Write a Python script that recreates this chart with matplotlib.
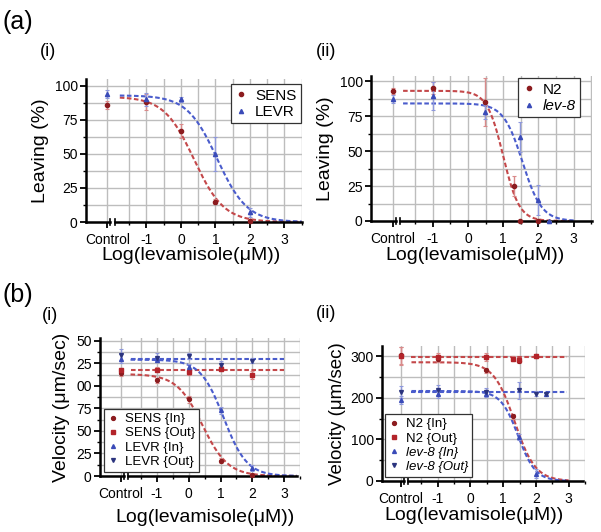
import numpy as np
import matplotlib
matplotlib.use("Agg")
import matplotlib.pyplot as plt
from matplotlib.lines import Line2D

plt.rcParams['font.family'] = ['Liberation Sans', 'DejaVu Sans']

W, H = 601, 532
fig = plt.figure(figsize=(W / 100, H / 100), dpi=100)

# ---------------- data ----------------
CONTROL = "Control"
x_ticks = [-1, 0, 1, 2, 3]

# (a)(i) Leaving (%)
a1_x = [CONTROL, -1, 0, 1, 2]
a1_sens = [86, 88, 67, 15, 1]
a1_sens_err = [3, 6, 5, 2, 1]
a1_levr = [94, 90, 90, 50, 7]
a1_levr_err = [3, 5, 2, 12.5, 3]
a1_fit_sens = [92, 0.38, 1.0]   # top, logEC50, hill
a1_fit_levr = [93, 1.05, 1.0]

# (a)(ii)
a2_n2_x = [CONTROL, -1, 0.48, 1.3, 1.48, 2]
a2_n2 = [93, 95, 85, 25, 0, 0]
a2_n2_err = [2, 4, 17, 7, 0, 0]
a2_lev8_x = [CONTROL, -1, 0.48, 1.48, 2, 2.3]
a2_lev8 = [87, 89, 78, 60, 15, 0]
a2_lev8_err = [3, 10, 5, 11, 10.5, 0]
a2_fit_n2 = [93, 1.0, 1.9]
a2_fit_lev8 = [84, 1.55, 1.6]

# (b)(i) Velocity
b1_x = [CONTROL, -1, 0, 1, 2]
b1_sens_in = [114, 106, 85, 17, 1]
b1_sens_in_err = [3, 3, 4, 3, 1]
b1_sens_out = [117, 118, 115, 119, 112]
b1_sens_out_err = [3, 3, 3, 3, 4]
b1_levr_in = [130, 129, 121, 73, 9]
b1_levr_in_err = [5, 3, 3, 4, 3]
b1_levr_out = [134, 131, 133, 123, 128]
b1_levr_out_err = [7, 5, 3, 5, 3]
b1_fit_sens_in = [113, 0.43, 1.08]
b1_fit_levr_in = [129, 1.1, 1.19]
b1_flat_sens_out = 117
b1_flat_levr_out = 130

# (b)(ii)
b2_n2_x = [CONTROL, -1, 0.48, 1.3, 1.48, 2]
b2_n2_in = [302, 294, 266, 156, 289, 300]
b2_n2_in_err = [20, 8, 6, 6, 5, 4]
b2_n2_out = [300, 298, 297, 293, 290, 299]
b2_n2_out_err = [22, 10, 10, 6, 5, 4]
b2_lev8_x = [CONTROL, -1, 0.48, 1.48, 2, 2.3]
b2_lev8_in = [194, 210, 210, 106, 18, 208]
b2_lev8_in_err = [10, 10, 8, 8, 10, 4]
b2_lev8_out = [214, 218, 214, 218, 209, 208]
b2_lev8_out_err = [15, 12, 10, 20, 6, 4]
b2_fit_n2_in = [285, 1.35, 1.37]
b2_fit_lev8_in = [216, 1.46, 1.64]
b2_flat_n2_out = 297
b2_flat_lev8_out = 214

# ---------------- styling ----------------
CONTROL_X = -2.13
RED_M = '#8c1c1f'
RED_M2 = '#b3242a'
RED_L = '#c4484a'
RED_E = '#d98a8a'
BLUE_M = '#3a4bb8'
BLUE_M2 = '#2b347e'
BLUE_L = '#4a5ccc'
BLUE_E = '#8e98dc'
DASH = (0, (2.2, 1.2))
GRID = '#bdbdbd'


def xpos(vals):
    return [CONTROL_X if v == CONTROL else v for v in vals]


def hill(p, x):
    top, ec, h = p
    return top / (1 + 10 ** ((x - ec) * h))


def px_axes(l, t, r, b, xlim, ylim, ymajor, yminor, ylabels=None):
    ax = fig.add_axes([l / W, 1 - b / H, (r - l) / W, (b - t) / H])
    ax.set_xlim(*xlim)
    ax.set_ylim(*ylim)
    for s in ['top', 'right', 'bottom']:
        ax.spines[s].set_visible(False)
    ax.spines['left'].set_linewidth(1.8)
    ax.set_xticks([CONTROL_X] + x_ticks)
    ax.set_xticklabels([CONTROL] + [str(v) for v in x_ticks])
    ax.set_xticks(np.arange(-1.5, 3.6, 0.5), minor=True)
    ax.set_yticks(ymajor)
    if ylabels is not None:
        ax.set_yticklabels(ylabels)
    ax.set_yticks(yminor, minor=True)
    ax.tick_params(axis='both', which='major', labelsize=10, length=4, width=1.3, pad=2)
    ax.tick_params(axis='both', which='minor', length=2.5, width=1.0)
    ax.tick_params(axis='x', which='major', pad=4)
    ax.grid(True, which='both', color=GRID, lw=1.0)
    ax.set_axisbelow(True)
    # broken bottom axis
    tr = ax.get_xaxis_transform()
    ax.plot([xlim[0], -2.04], [0, 0], color='black', lw=1.8, transform=tr, clip_on=False, zorder=5)
    ax.plot([-1.92, xlim[1]], [0, 0], color='black', lw=1.8, transform=tr, clip_on=False, zorder=5)
    ax.plot([-2.04, -2.04], [-0.02, 0.02], color='black', lw=1.2, transform=tr, clip_on=False, zorder=5)
    ax.plot([-1.92, -1.92], [-0.02, 0.02], color='black', lw=1.2, transform=tr, clip_on=False, zorder=5)
    return ax


def pts(ax, x, y, e, color, ecolor, marker, ms=3.0):
    ax.errorbar(xpos(x), y, yerr=e, fmt=marker, ms=ms, color=color, ecolor=ecolor,
                elinewidth=1.0, capsize=1.5, capthick=0.8, zorder=6, clip_on=False)


def curve(ax, p, color, x0=-1.8, x1=3.5):
    xs = np.linspace(x0, x1, 200)
    ax.plot(xs, hill(p, xs), color=color, lw=1.5, ls=DASH, zorder=4)


def flat(ax, v, color, x0=-1.8, x1=3.0):
    ax.plot([x0, x1], [v, v], color=color, lw=1.5, ls=DASH, zorder=4)


def legend(ax, handles, labels, loc, anchor, fs, italic_idx=()):
    leg = ax.legend(handles, labels, loc=loc, bbox_to_anchor=anchor, borderaxespad=0,
                    fontsize=fs, frameon=True, fancybox=False, edgecolor='#333333',
                    framealpha=1, handlelength=0.8, handletextpad=0.5, labelspacing=0.15,
                    borderpad=0.3)
    leg.get_frame().set_linewidth(0.9)
    leg.set_zorder(10)
    for i in italic_idx:
        leg.get_texts()[i].set_style('italic')
    return leg


def mh(color, marker, ms=3.0):
    return Line2D([], [], ls='none', marker=marker, color=color, ms=ms)


# ---------------- (a)(i) ----------------
ax = px_axes(86, 79, 302, 222, (-2.75, 3.51), (0, 105), [0, 25, 50, 75, 100],
             np.arange(0, 105, 12.5))
curve(ax, a1_fit_sens, RED_L, -1.77, 3.5)
curve(ax, a1_fit_levr, BLUE_L, -1.77, 3.5)
pts(ax, a1_x, a1_sens, a1_sens_err, RED_M, RED_E, 'o')
pts(ax, a1_x, a1_levr, a1_levr_err, BLUE_M, BLUE_E, '^')
ax.set_ylabel('Leaving (%)', fontsize=14, labelpad=4)
legend(ax, [mh(RED_M, 'o'), mh(BLUE_M, '^')], ['SENS', 'LEVR'], 'upper left', (0.67, 0.965), 11)

# ---------------- (a)(ii) ----------------
ax = px_axes(371, 76, 592, 221, (-2.75, 3.52), (0, 103.6), [0, 25, 50, 75, 100],
             np.arange(0, 104, 12.5))
curve(ax, a2_fit_n2, RED_L, -1.84, 3.0)
curve(ax, a2_fit_lev8, BLUE_L, -1.84, 3.0)
pts(ax, a2_n2_x, a2_n2, a2_n2_err, RED_M, RED_E, 'o')
pts(ax, a2_lev8_x, a2_lev8, a2_lev8_err, BLUE_M, BLUE_E, '^')
ax.set_ylabel('Leaving (%)', fontsize=14, labelpad=4)
legend(ax, [mh(RED_M, 'o'), mh(BLUE_M, '^')], ['N2', 'lev-8'], 'upper left', (0.665, 0.986), 11,
       italic_idx=(1,))

# ---------------- (b)(i) ----------------
ax = px_axes(100, 338, 300, 476, (-2.79, 3.41), (0, 153), [0, 25, 50, 75, 100, 125, 150],
             np.arange(0, 153, 12.5), ylabels=['0', '25', '50', '75', '00', '25', '50'])
flat(ax, b1_flat_sens_out, RED_L, -1.83, 3.0)
flat(ax, b1_flat_levr_out, BLUE_L, -1.83, 3.0)
curve(ax, b1_fit_sens_in, RED_L, -1.83, 3.4)
curve(ax, b1_fit_levr_in, BLUE_L, -1.83, 3.4)
pts(ax, b1_x, b1_sens_in, b1_sens_in_err, RED_M, RED_E, 'o', 2.8)
pts(ax, b1_x, b1_sens_out, b1_sens_out_err, RED_M2, RED_E, 's', 3.2)
pts(ax, b1_x, b1_levr_in, b1_levr_in_err, BLUE_M, BLUE_E, '^', 2.8)
pts(ax, b1_x, b1_levr_out, b1_levr_out_err, BLUE_M2, BLUE_E, 'v', 2.8)
ax.set_ylabel('Velocity (μm/sec)', fontsize=14, labelpad=4)
legend(ax, [mh(RED_M, 'o', 2.8), mh(RED_M2, 's', 3.2), mh(BLUE_M, '^', 2.8), mh(BLUE_M2, 'v', 2.8)],
       ['SENS {In}', 'SENS {Out}', 'LEVR {In}', 'LEVR {Out}'], 'lower left', (0.02, 0.03), 9.5)

# ---------------- (b)(ii) ----------------
ax = px_axes(382, 346, 585, 481, (-2.70, 3.45), (0, 324), [0, 100, 200, 300],
             np.arange(0, 324, 50))
flat(ax, b2_flat_n2_out, RED_L, -1.8, 2.95)
flat(ax, b2_flat_lev8_out, BLUE_L, -1.8, 2.95)
curve(ax, b2_fit_n2_in, RED_L, -1.8, 3.0)
curve(ax, b2_fit_lev8_in, BLUE_L, -1.8, 3.0)
pts(ax, b2_n2_x, b2_n2_in, b2_n2_in_err, RED_M, RED_E, 'o', 2.8)
pts(ax, b2_n2_x, b2_n2_out, b2_n2_out_err, RED_M2, RED_E, 's', 3.2)
pts(ax, b2_lev8_x, b2_lev8_in, b2_lev8_in_err, BLUE_M, BLUE_E, '^', 2.8)
pts(ax, b2_lev8_x, b2_lev8_out, b2_lev8_out_err, BLUE_M2, BLUE_E, 'v', 2.8)
ax.set_ylabel('Velocity (μm/sec)', fontsize=13.5, labelpad=3)
legend(ax, [mh(RED_M, 'o', 2.8), mh(RED_M2, 's', 3.2), mh(BLUE_M, '^', 2.8), mh(BLUE_M2, 'v', 2.8)],
       ['N2 {In}', 'N2 {Out}', 'lev-8 {In}', 'lev-8 {Out}'], 'lower left', (0.015, 0.03), 9.5,
       italic_idx=(2, 3))

# ---------------- labels ----------------
def ftext(x, y, s, fs, **kw):
    fig.text(x / W, 1 - y / H, s, fontsize=fs, va='center', **kw)

ftext(3, 22, '(a)', 18)
ftext(3, 295, '(b)', 18)
ftext(40, 51, '(i)', 13)
ftext(316, 51, '(ii)', 13)
ftext(42, 315, '(i)', 13)
ftext(316, 313, '(ii)', 13)
ftext(191, 256, 'Log(levamisole(μM))', 14, ha='center')
ftext(475, 256, 'Log(levamisole(μM))', 14, ha='center')
ftext(205, 518, 'Log(levamisole(μM))', 14, ha='center')
ftext(474, 516, 'Log(levamisole(μM))', 14, ha='center')

fig.savefig('out.png', dpi=100)
